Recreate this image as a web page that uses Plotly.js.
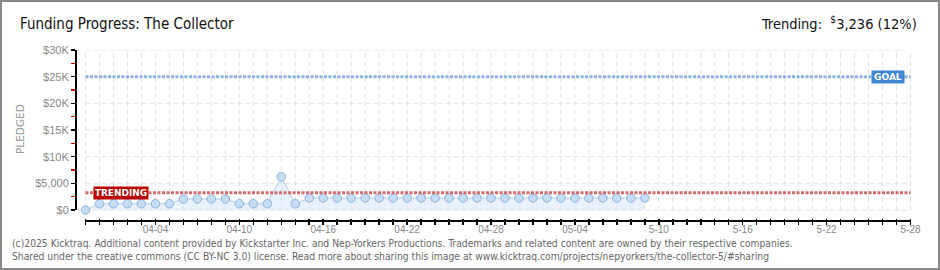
<!DOCTYPE html>
<html>
<head>
<meta charset="utf-8">
<script src="https://cdn.plot.ly/plotly-3.0.1.min.js"></script>
<style>
  html, body { margin: 0; padding: 0; background: #fff; }
  #wrap { position: relative; width: 940px; height: 270px; }
  #chart { position: absolute; left: 0; top: 0; width: 940px; height: 270px; }
  #frame { position: absolute; left: 0; top: 0; width: 940px; height: 270px; box-sizing: border-box; border: 2px solid #8a8a8a; pointer-events: none; }
</style>
</head>
<body>
<div id="wrap"><div id="chart"></div><div id="frame"></div></div>
<script>
// ---- data ----
const dates = [
  '2025-03-30','2025-03-31','2025-04-01','2025-04-02','2025-04-03','2025-04-04','2025-04-05',
  '2025-04-06','2025-04-07','2025-04-08','2025-04-09','2025-04-10','2025-04-11','2025-04-12',
  '2025-04-13','2025-04-14','2025-04-15','2025-04-16','2025-04-17','2025-04-18','2025-04-19',
  '2025-04-20','2025-04-21','2025-04-22','2025-04-23','2025-04-24','2025-04-25','2025-04-26',
  '2025-04-27','2025-04-28','2025-04-29','2025-04-30','2025-05-01','2025-05-02','2025-05-03',
  '2025-05-04','2025-05-05','2025-05-06','2025-05-07','2025-05-08','2025-05-09'
];
const pledged = [
  0, 1180, 1180, 1180, 1180, 1180, 1180,
  2060, 2060, 2060, 2060, 1180, 1180, 1180,
  6240, 1180, 2250, 2250, 2250, 2250, 2250,
  2250, 2250, 2250, 2250, 2250, 2250, 2250,
  2250, 2250, 2250, 2250, 2250, 2250, 2250,
  2250, 2250, 2250, 2250, 2250, 2250
];
const goal = 25000;
const trending = 3236;
const yTickVals = [0, 5000, 10000, 15000, 20000, 25000, 30000];
const yTickText = ['$0', '$5,000', '$10K', '$15K', '$20K', '$25K', '$30K'];
const xLabelDates = ['2025-04-04','2025-04-10','2025-04-16','2025-04-22','2025-04-28',
                     '2025-05-04','2025-05-10','2025-05-16','2025-05-22','2025-05-28'];
const xLabelText = ['04-04','04-10','04-16','04-22','04-28','05-04','5-10','5-16','5-22','5-28'];
const axisStart = '2025-03-30';
const axisEnd = '2025-05-28';
const titleText = 'Funding Progress: The Collector';
const trendText = 'Trending:  <sup>$</sup>3,236 (12%)';
const footer1 = '(c)2025 Kicktraq. Additional content provided by Kickstarter Inc. and Nep-Yorkers Productions. Trademarks and related content are owned by their respective companies.';
const footer2 = 'Shared under the creative commons (CC BY-NC 3.0) license. Read more about sharing this image at www.kicktraq.com/projects/nepyorkers/the-collector-5/#sharing';

// ---- daily axis ticks ----
function iso(d) { return d.toISOString().slice(0, 10); }
const dayTicks = [];
for (let d = new Date(axisStart + 'T00:00:00Z'); iso(d) <= axisEnd; d.setUTCDate(d.getUTCDate() + 1)) dayTicks.push(iso(d));
const yMinor = yTickVals.slice(0, -1).map((v, i) => (v + yTickVals[i + 1]) / 2);

// ---- geometry (pixels) ----
const L = 76, R = 28, T = 50, B = 52, W = 940, H = 270;
const pw = W - L - R, ph = H - T - B;
const px = x => (x - L) / pw;
const py = y => (H - B - y) / ph;

const gridLine = { color: '#e1e1e1', width: 1, dash: '5px,3px' };
const shapes = [];
dayTicks.forEach(d => shapes.push({ type: 'line', xref: 'x', yref: 'y', x0: d, x1: d, y0: 0, y1: yTickVals[yTickVals.length - 1], line: gridLine, layer: 'below' }));
yTickVals.forEach(v => shapes.push({ type: 'line', xref: 'x', yref: 'y', x0: axisStart, x1: axisEnd, y0: v, y1: v, line: gridLine, layer: 'below' }));
shapes.push({ type: 'line', xref: 'paper', yref: 'y', x0: 0, x1: 0, y0: 0, y1: yTickVals[yTickVals.length - 1], line: { color: '#000', width: 2 } });
shapes.push({ type: 'line', xref: 'x', yref: 'paper', x0: axisStart, x1: axisEnd, y0: -3 / ph, y1: -3 / ph, line: { color: '#000', width: 2 } });
shapes.push({ type: 'line', xref: 'x', yref: 'y', x0: axisStart, x1: axisEnd, y0: goal, y1: goal, line: { color: '#8db3e2', width: 3, dash: '3px,1.5px' }, layer: 'above' });
shapes.push({ type: 'line', xref: 'x', yref: 'y', x0: axisStart, x1: axisEnd, y0: trending, y1: trending, line: { color: '#d46a6a', width: 3, dash: '3px,1.5px' }, layer: 'above' });

const trace = {
  x: dates, y: pledged, type: 'scatter', mode: 'lines+markers',
  fill: 'tozeroy', fillcolor: 'rgba(214,230,250,0.55)',
  line: { color: '#b3cfee', width: 1 },
  marker: { size: 8.5, color: '#c6ddf6', line: { color: '#8fb2dc', width: 1 } },
  hoverinfo: 'skip', cliponaxis: false
};

const narrow = 'DejaVu Sans Condensed, sans-serif';
const layout = {
  width: W, height: H,
  margin: { l: L, r: R, t: T, b: B, pad: 0 },
  paper_bgcolor: '#fff', plot_bgcolor: '#fff',
  showlegend: false,
  font: { family: 'Liberation Sans, sans-serif', color: '#888' },
  title: { text: titleText, xref: 'container', yref: 'container', x: 20 / W, xanchor: 'left', y: 1 - 24 / H, yanchor: 'middle',
           font: { family: narrow, size: 15, color: '#111' } },
  xaxis: {
    type: 'date', range: ['2025-03-29 07:41', '2025-05-28 02:34'],
    tickmode: 'array', tickvals: xLabelDates, ticktext: xLabelText,
    ticks: 'outside', ticklen: 6, tickwidth: 1.5, tickcolor: '#000', ticklabelstandoff: -4,
    minor: { tickmode: 'linear', tick0: axisStart, dtick: 86400000, ticks: 'outside', ticklen: 6, tickwidth: 1.5, tickcolor: '#000', showgrid: false },
    showgrid: false, zeroline: false, showline: false, automargin: false,
    tickfont: { family: 'Liberation Sans, sans-serif', size: 10, color: '#888' }
  },
  yaxis: {
    range: [-1500, 30000],
    tickmode: 'array', tickvals: yTickVals, ticktext: yTickText,
    ticks: 'outside', ticklen: 4, tickwidth: 1.5, tickcolor: '#000',
    minor: { tickmode: 'array', tickvals: yMinor, ticks: 'outside', ticklen: 4, tickwidth: 1.5, tickcolor: '#e00000', showgrid: false },
    showgrid: false, zeroline: false, showline: false, automargin: false,
    tickfont: { family: 'Liberation Sans, sans-serif', size: 11, color: '#888' }
  },
  shapes: shapes,
  annotations: [
    { xref: 'paper', yref: 'paper', x: px(919), y: py(23), xanchor: 'right', yanchor: 'middle', showarrow: false,
      text: trendText, font: { family: narrow, size: 14.5, color: '#111' } },
    { xref: 'paper', yref: 'paper', x: px(20), y: py(129), xanchor: 'center', yanchor: 'middle', showarrow: false,
      textangle: -90, text: 'PLEDGED', font: { family: 'DejaVu Sans, sans-serif', size: 10.5, color: '#999' } },
    { xref: 'paper', yref: 'y', x: px(888), y: goal, xanchor: 'center', yanchor: 'middle', showarrow: false,
      text: '<b>GOAL</b>', bgcolor: '#3f86d4', width: 30, height: 10, borderpad: 1,
      font: { family: 'DejaVu Sans, sans-serif', size: 9, color: '#fff' } },
    { xref: 'paper', yref: 'y', x: px(121), y: trending, xanchor: 'center', yanchor: 'middle', showarrow: false,
      text: '<b>TRENDING</b>', bgcolor: '#bb0000', width: 52, height: 10, borderpad: 1,
      font: { family: 'DejaVu Sans, sans-serif', size: 9, color: '#fff' } },
    { xref: 'paper', yref: 'paper', x: px(10), y: py(243.5), xanchor: 'left', yanchor: 'middle', showarrow: false,
      text: footer1, font: { family: 'DejaVu Sans Condensed, sans-serif', size: 10.25, color: '#666' } },
    { xref: 'paper', yref: 'paper', x: px(10), y: py(255.5), xanchor: 'left', yanchor: 'middle', showarrow: false,
      text: footer2, font: { family: 'DejaVu Sans Condensed, sans-serif', size: 10.25, color: '#666' } }
  ]
};

Plotly.newPlot('chart', [trace], layout, { staticPlot: true, displayModeBar: false });
</script>
</body>
</html>
